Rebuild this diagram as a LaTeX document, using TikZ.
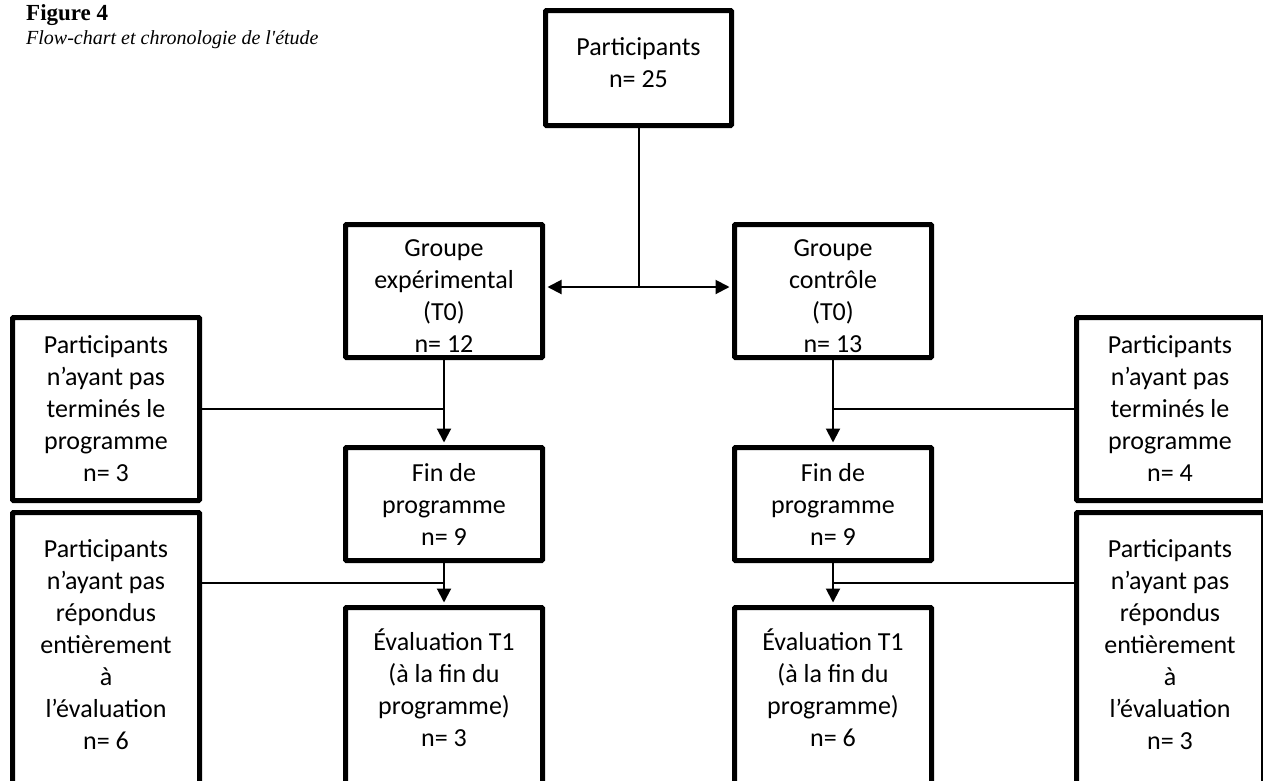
\documentclass[tikz,border=0pt]{standalone}
\usepackage{fontspec}
\setmainfont{Carlito}
\newfontfamily\timesfont{Liberation Serif}
\usetikzlibrary{arrows.meta}
\begin{document}
\begin{tikzpicture}[x=1pt,y=-1pt,
  box/.style={draw, line width=5pt, rounded corners=1pt, align=center,
    font=\fontsize{26}{32}\selectfont, inner sep=0pt},
  txt/.style={align=center, font=\fontsize{26}{32}\selectfont, inner sep=0pt},
  conn/.style={line width=2pt},
  tip/.tip={Triangle[length=14pt,width=14pt]},
  arr/.style={line width=2pt, -tip, shorten >=2.5pt},
  darr/.style={line width=2pt, tip-tip, shorten >=2.5pt, shorten <=2.5pt},
  ttl/.style={anchor=base west, inner sep=0pt}]
\useasboundingbox (0,0) rectangle (1263,780);
\clip (0,0) rectangle (1263,780);

% title
\node[ttl, font=\timesfont\bfseries\fontsize{23}{27}\selectfont] (fig) at (26,20) {Figure 4};
\node[ttl, font=\timesfont\itshape\fontsize{20}{24}\selectfont] (cap) at (26,44) {Flow-chart et chronologie de l'étude};

% boxes
\node[box, minimum width=186pt, minimum height=115pt] (top) at (638.5,68) {};
\node[txt] (topt) at (638.5,63) {Participants\\n= 25};

\node[box, minimum width=197pt, minimum height=133pt] (gexp) at (444,291) {};
\node[txt] (gexpt) at (444,296) {Groupe\\expérimental\\(T0)\\n= 12};
\node[box, minimum width=197pt, minimum height=133pt] (gctrl) at (833,291) {};
\node[txt] (gctrlt) at (833,296) {Groupe\\contrôle\\(T0)\\n= 13};

\node[box, minimum width=197pt, minimum height=113pt] (finL) at (444,504) {Fin de\\programme\\n= 9};
\node[box, minimum width=197pt, minimum height=113pt] (finR) at (833,504) {Fin de\\programme\\n= 9};

\node[box, minimum width=197pt, minimum height=192.5pt] (evalL) at (444,703.75) {};
\node[txt] (evalLt) at (444,688) {Évaluation T1\\(à la fin du\\programme)\\n= 3};
\node[box, minimum width=197pt, minimum height=192.5pt] (evalR) at (833,703.75) {};
\node[txt] (evalRt) at (833,688) {Évaluation T1\\(à la fin du\\programme)\\n= 6};

\node[box, minimum width=187pt, minimum height=183pt] (sideL1) at (106,409) {Participants\\n’ayant pas\\terminés le\\programme\\n= 3};
\node[box, minimum width=187pt, minimum height=183pt] (sideR1) at (1170,409) {Participants\\n’ayant pas\\terminés le\\programme\\n= 4};

\node[box, minimum width=187pt, minimum height=287.5pt] (sideL2) at (106,656.25) {};
\node[txt] (sideL2t) at (106,645) {Participants\\n’ayant pas\\répondus\\entièrement\\à\\l’évaluation\\n= 6};
\node[box, minimum width=187pt, minimum height=287.5pt] (sideR2) at (1170,656.25) {};
\node[txt] (sideR2t) at (1170,645) {Participants\\n’ayant pas\\répondus\\entièrement\\à\\l’évaluation\\n= 3};

% connectors
\coordinate (j) at (638.5,287);
\draw[conn] (top.south) -- (j);
\draw[darr] (gexp.east |- j) -- (gctrl.west |- j);

\draw[arr] (gexp.south) -- (finL.north);
\draw[arr] (finL.south) -- (evalL.north);
\draw[arr] (gctrl.south) -- (finR.north);
\draw[arr] (finR.south) -- (evalR.north);

\draw[conn] (sideL1.east) -- (sideL1.east -| gexp.south);
\draw[conn] (sideR1.west) -- (sideR1.west -| gctrl.south);
\coordinate (jL2) at (444,583);
\coordinate (jR2) at (833,583);
\draw[conn] (jL2 -| sideL2.east) -- (jL2);
\draw[conn] (jR2 -| sideR2.west) -- (jR2);
\end{tikzpicture}
\end{document}
